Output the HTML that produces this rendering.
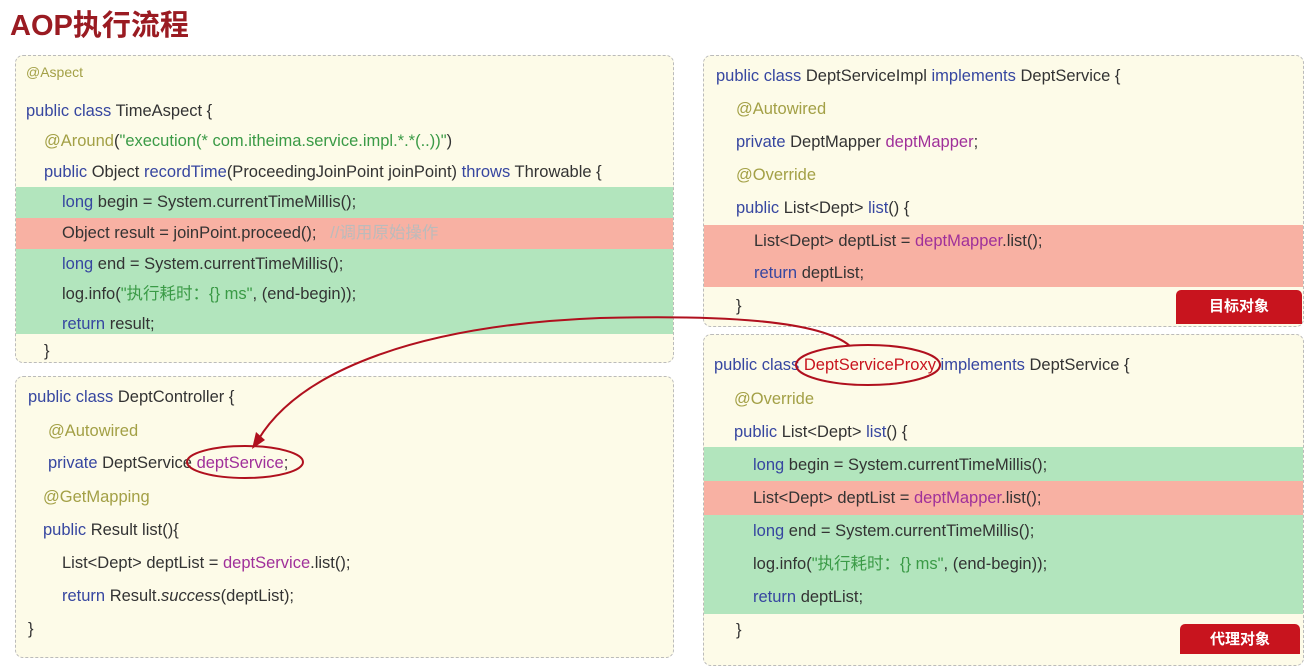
<!DOCTYPE html>
<html><head><meta charset="utf-8"><style>
body{margin:0;width:1310px;height:650px;background:#fff;position:relative;overflow:hidden;font-family:"Liberation Sans","Noto Sans CJK SC",sans-serif;}
.t{position:absolute;left:10px;top:2px;font-size:29px;font-weight:bold;color:#9a1b22;}
.box{position:absolute;background:#fdfbe8;border:1.5px dashed #bbb;border-radius:8px;overflow:hidden;}
.l{position:absolute;font-size:16.5px;color:#333;white-space:nowrap;line-height:18px;}
.band{position:absolute;left:0;right:0;}
.g{background:#b2e5bd}.r{background:#f8b1a3}
.k{color:#3646a0}.a{color:#a3a046}.s{color:#3a9a46}.p{color:#a0309a}.c{color:#bbb}
.tag{position:absolute;background:#c8141e;color:#fff;font-weight:bold;font-size:15px;text-align:center;border-radius:5px 5px 0 0;}
</style></head><body>
<div class="t">AOP执行流程</div>

<div class="box" style="left:15px;top:55px;width:657px;height:306px">
<div class="band g" style="top:131px;height:31px"></div>
<div class="band r" style="top:162px;height:31px"></div>
<div class="band g" style="top:193px;height:85px"></div>
<div class="l a" style="left:10px;top:7px;font-size:14px">@Aspect</div>
<div class="l" style="left:10px;top:46px"><span class="k">public class</span> TimeAspect {</div>
<div class="l" style="left:28px;top:76px"><span class="a">@Around</span>(<span class="s">"execution(* com.itheima.service.impl.*.*(..))"</span>)</div>
<div class="l" style="left:28px;top:107px"><span class="k">public</span> Object <span class="k">recordTime</span>(ProceedingJoinPoint joinPoint) <span class="k">throws</span> Throwable {</div>
<div class="l" style="left:46px;top:137px"><span class="k">long</span> begin = System.currentTimeMillis();</div>
<div class="l" style="left:46px;top:168px">Object result = joinPoint.proceed();&nbsp;&nbsp; <span class="c">//调用原始操作</span></div>
<div class="l" style="left:46px;top:199px"><span class="k">long</span> end = System.currentTimeMillis();</div>
<div class="l" style="left:46px;top:229px">log.info(<span class="s">"执行耗时：{} ms"</span>, (end-begin));</div>
<div class="l" style="left:46px;top:259px"><span class="k">return</span> result;</div>
<div class="l" style="left:28px;top:286px">}</div>
</div>

<div class="box" style="left:15px;top:376px;width:657px;height:280px">
<div class="l" style="left:12px;top:11px"><span class="k">public class</span> DeptController {</div>
<div class="l a" style="left:32px;top:45px">@Autowired</div>
<div class="l" style="left:32px;top:77px"><span class="k">private</span> DeptService <span class="p">deptService</span>;</div>
<div class="l a" style="left:27px;top:111px">@GetMapping</div>
<div class="l" style="left:27px;top:144px"><span class="k">public</span> Result list(){</div>
<div class="l" style="left:46px;top:177px">List&lt;Dept&gt; deptList = <span class="p">deptService</span>.list();</div>
<div class="l" style="left:46px;top:210px"><span class="k">return</span> Result.<i>success</i>(deptList);</div>
<div class="l" style="left:12px;top:243px">}</div>
</div>

<div class="box" style="left:703px;top:55px;width:599px;height:270px">
<div class="band r" style="top:169px;height:62px"></div>
<div class="l" style="left:12px;top:11px"><span class="k">public class</span> DeptServiceImpl <span class="k">implements</span> DeptService {</div>
<div class="l a" style="left:32px;top:44px">@Autowired</div>
<div class="l" style="left:32px;top:77px"><span class="k">private</span> DeptMapper <span class="p">deptMapper</span>;</div>
<div class="l a" style="left:32px;top:110px">@Override</div>
<div class="l" style="left:32px;top:143px"><span class="k">public</span> List&lt;Dept&gt; <span class="k">list</span>() {</div>
<div class="l" style="left:50px;top:176px">List&lt;Dept&gt; deptList = <span class="p">deptMapper</span>.list();</div>
<div class="l" style="left:50px;top:208px"><span class="k">return</span> deptList;</div>
<div class="l" style="left:32px;top:241px">}</div>
</div>
<div class="tag" style="left:1176px;top:290px;width:126px;height:34px;line-height:34px">目标对象</div>

<div class="box" style="left:703px;top:334px;width:599px;height:330px">
<div class="band g" style="top:112px;height:34px"></div>
<div class="band r" style="top:146px;height:34px"></div>
<div class="band g" style="top:180px;height:99px"></div>
<div class="l" style="left:10px;top:21px"><span class="k">public class</span> <span style="color:#c8141e">DeptServiceProxy</span> <span class="k">implements</span> DeptService {</div>
<div class="l a" style="left:30px;top:55px">@Override</div>
<div class="l" style="left:30px;top:88px"><span class="k">public</span> List&lt;Dept&gt; <span class="k">list</span>() {</div>
<div class="l" style="left:49px;top:121px"><span class="k">long</span> begin = System.currentTimeMillis();</div>
<div class="l" style="left:49px;top:154px">List&lt;Dept&gt; deptList = <span class="p">deptMapper</span>.list();</div>
<div class="l" style="left:49px;top:187px"><span class="k">long</span> end = System.currentTimeMillis();</div>
<div class="l" style="left:49px;top:220px">log.info(<span class="s">"执行耗时：{} ms"</span>, (end-begin));</div>
<div class="l" style="left:49px;top:253px"><span class="k">return</span> deptList;</div>
<div class="l" style="left:32px;top:286px">}</div>
</div>
<div class="tag" style="left:1180px;top:624px;width:120px;height:30px;line-height:32px">代理对象</div>

<svg width="1310" height="650" style="position:absolute;left:0;top:0">
<ellipse cx="245" cy="462" rx="58" ry="16" fill="none" stroke="#b0101e" stroke-width="2"/>
<ellipse cx="868" cy="365" rx="72" ry="20" fill="none" stroke="#b0101e" stroke-width="2"/>
<path d="M850 346 C 820 320, 720 315, 600 318 C 420 325, 300 370, 258 440" fill="none" stroke="#b0101e" stroke-width="2"/>
<path d="M252 449 L256 432 L265 440 Z" fill="#b0101e"/>
</svg>
</body></html>
